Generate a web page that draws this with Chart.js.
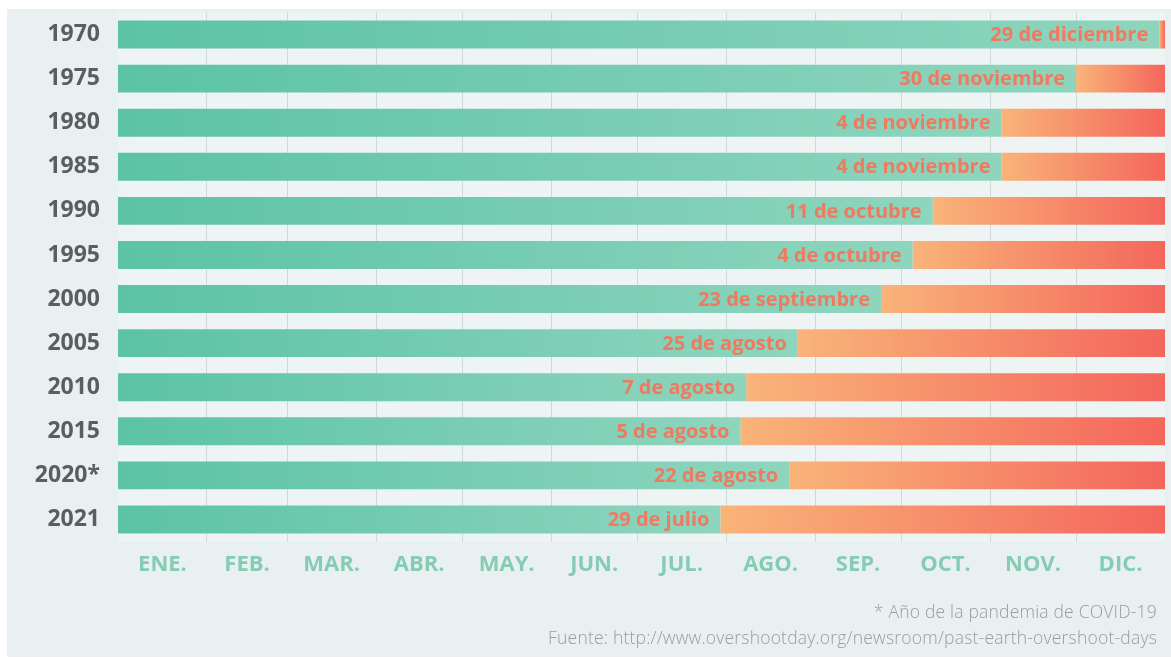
<!DOCTYPE html>
<html>
<head>
<meta charset="utf-8">
<script src="https://cdn.jsdelivr.net/npm/chart.js@4.4.1/dist/chart.umd.min.js"></script>
<style>
  body { margin: 0; background: #ffffff; }
  #wrap { position: absolute; left: 7px; top: 9px; width: 1164px; height: 648px; background: #e8f0f1; }
  #notes { position: absolute; right: 14px; top: 589px; text-align: right; font-family: 'Open Sans', sans-serif;
           font-size: 17.5px; letter-spacing: 0.2px; font-weight: 300; line-height: 26px; color: #959ea2; }
</style>
</head>
<body>
<div id="wrap"><canvas id="overshootChart"></canvas><div id="notes"></div></div>
<script>
// Día del sobregiro de la Tierra, por año
const years = ['1970', '1975', '1980', '1985', '1990', '1995', '2000', '2005', '2010', '2015', '2020*', '2021'];
// día del año (0 = 1 de enero)
const overshootDay = [363, 334, 308, 308, 284, 277, 266, 237, 219, 217, 234, 210];
const dateLabels = ['29 de diciembre', '30 de noviembre', '4 de noviembre', '4 de noviembre', '11 de octubre',
    '4 de octubre', '23 de septiembre', '25 de agosto', '7 de agosto', '5 de agosto', '22 de agosto', '29 de julio'];
const months = ['ENE.', 'FEB.', 'MAR.', 'ABR.', 'MAY.', 'JUN.', 'JUL.', 'AGO.', 'SEP.', 'OCT.', 'NOV.', 'DIC.'];
const monthStart = [0, 31, 59, 90, 120, 151, 181, 212, 243, 273, 304, 334];
const yearLength = 365;
const notes = ['* Año de la pandemia de COVID-19', 'Fuente: http://www.overshootday.org/newsroom/past-earth-overshoot-days'];

const FONT = "'Open Sans', 'DejaVu Sans', sans-serif";

document.getElementById('notes').innerHTML = notes.join('<br>');

function monthCenter(i) {
    let end = i < 11 ? monthStart[i + 1] : yearLength;
    return (monthStart[i] + end) / 2;
}

function greenFill(context) {
    let chart = context.chart;
    let area = chart.chartArea;
    if (!area) return '#6ccaae';
    let x1 = chart.scales.x.getPixelForValue(overshootDay[context.dataIndex]);
    let g = chart.ctx.createLinearGradient(area.left, 0, x1, 0);
    g.addColorStop(0, '#5cc3a5');
    g.addColorStop(1, '#8fd5be');
    return g;
}

function redFill(context) {
    let chart = context.chart;
    let area = chart.chartArea;
    if (!area) return '#f68a66';
    let x0 = chart.scales.x.getPixelForValue(overshootDay[context.dataIndex]);
    let g = chart.ctx.createLinearGradient(x0, 0, area.right, 0);
    g.addColorStop(0, '#f9b479');
    g.addColorStop(1, '#f4665c');
    return g;
}

// fondo un poco más claro detrás de las barras
const areaBg = {
    id: 'areaBg',
    beforeDraw(chart) {
        let a = chart.chartArea;
        chart.ctx.save();
        chart.ctx.fillStyle = '#eef4f3';
        chart.ctx.fillRect(a.left, a.top, a.right - a.left, a.bottom - a.top);
        chart.ctx.restore();
    }
};

// fecha escrita al final de la parte verde
const dateText = {
    id: 'dateText',
    afterDatasetsDraw(chart) {
        let meta = chart.getDatasetMeta(0);
        let ctx = chart.ctx;
        ctx.save();
        ctx.font = 'bold 20px ' + FONT;
        ctx.fillStyle = '#ef7a5f';
        ctx.textAlign = 'right';
        ctx.textBaseline = 'middle';
        meta.data.forEach(function (bar, i) {
            ctx.fillText(dateLabels[i], bar.x - 11, bar.y + 1);
        });
        ctx.restore();
    }
};

const ctx = document.getElementById('overshootChart').getContext('2d');
const myChart = new Chart(ctx, {
    type: 'bar',
    data: {
        labels: years,
        datasets: [{
            label: 'Recursos',
            data: overshootDay,
            backgroundColor: greenFill,
            borderWidth: 0
        }, {
            label: 'Déficit',
            data: overshootDay.map(d => [d, yearLength]),
            backgroundColor: redFill,
            borderWidth: 0
        }]
    },
    options: {
        indexAxis: 'y',
        responsive: true,
        maintainAspectRatio: false,
        animation: false,
        grouped: false,
        barPercentage: 0.635,
        categoryPercentage: 1,
        layout: { padding: { top: 3.5, right: 6, bottom: 69.5, left: 0 } },
        plugins: {
            legend: { display: false },
            tooltip: { enabled: false }
        },
        scales: {
            x: {
                type: 'linear',
                min: 0,
                max: yearLength,
                z: 1,
                afterBuildTicks: function (scale) {
                    let t = [];
                    for (let i = 0; i < months.length; i++) {
                        t.push({ value: monthCenter(i) });
                        if (i < months.length - 1) t.push({ value: monthStart[i + 1] });
                    }
                    scale.ticks = t;
                },
                afterFit: function (scale) {
                    scale.height = 46;
                    scale.paddingLeft = 0;
                    scale.paddingRight = 0;
                },
                ticks: {
                    autoSkip: false,
                    maxRotation: 0,
                    padding: 10,
                    color: '#86ccb3',
                    font: { family: FONT, size: 22, weight: 'bold' },
                    callback: function (value) {
                        let i = months.findIndex((m, k) => Math.abs(monthCenter(k) - value) < 0.01);
                        return i >= 0 ? months[i] : '';
                    }
                },
                grid: {
                    drawTicks: false,
                    lineWidth: 1,
                    color: function (c) {
                        if (!c.tick) return 'transparent';
                        return monthStart.indexOf(c.tick.value) > 0 ? 'rgba(120, 150, 150, 0.28)' : 'transparent';
                    }
                },
                border: { display: false }
            },
            y: {
                afterFit: function (scale) {
                    scale.width = 111;
                    scale.paddingTop = 0;
                    scale.paddingBottom = 0;
                },
                ticks: {
                    padding: 18,
                    color: '#5a5e60',
                    font: { family: FONT, size: 23, weight: 'bold' }
                },
                grid: { display: false, drawTicks: false },
                border: { display: false }
            }
        }
    },
    plugins: [areaBg, dateText]
});
</script>
</body>
</html>
